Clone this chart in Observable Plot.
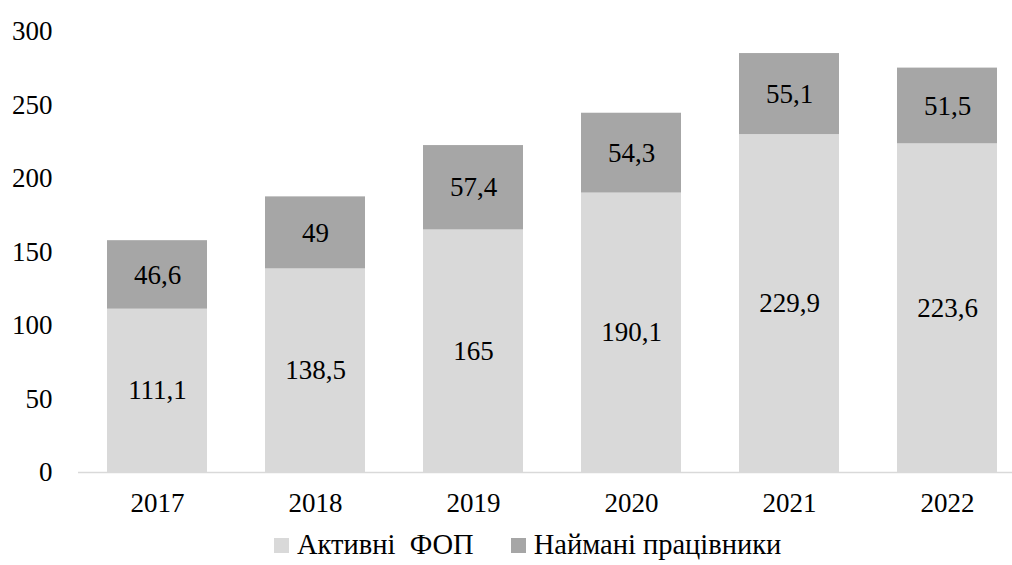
<!DOCTYPE html>
<html>
<head>
<meta charset="utf-8">
<script src="https://cdn.jsdelivr.net/npm/d3@7"></script>
<script src="https://cdn.jsdelivr.net/npm/@observablehq/plot@0.6"></script>
<style>
  html, body { margin: 0; padding: 0; background: #fff; }
  body { width: 1012px; height: 565px; overflow: hidden; font-family: "Times New Roman", "Liberation Serif", Times, serif; }
  #legend { display: flex; justify-content: flex-start; align-items: center; height: 40px; font-size: 28.5px; color: #000; padding-left: 274px; }
  .item { display: flex; align-items: center; }
  .sw { width: 15px; height: 15px; display: inline-block; margin-right: 8px; }
</style>
</head>
<body>
<div id="chart"></div>
<div id="legend"></div>
<script>
const years = ["2017", "2018", "2019", "2020", "2021", "2022"];
const series = ["Активні  ФОП", "Наймані працівники"];
const active = [111.1, 138.5, 165, 190.1, 229.9, 223.6];
const hired = [46.6, 49, 57.4, 54.3, 55.1, 51.5];
const colors = ["#D9D9D9", "#A6A6A6"];
const yTicks = [0, 50, 100, 150, 200, 250, 300];

const data = [];
years.forEach((y, i) => {
  data.push({year: y, series: series[0], value: active[i]});
  data.push({year: y, series: series[1], value: hired[i]});
});
const fmt = v => String(v).replace(".", ",");
const FONT = "'Times New Roman', 'Liberation Serif', Times, serif";

const chart = Plot.plot({
  width: 1012,
  height: 525,
  marginLeft: 78,
  marginRight: 0,
  marginTop: 31,
  marginBottom: 53,
  style: {fontFamily: FONT, fontSize: "27px", color: "#000", background: "#fff"},
  x: {domain: years, range: [78, 1026], paddingInner: 0.367, paddingOuter: 0.1835, label: null},
  y: {domain: [0, 300], ticks: yTicks, label: null},
  color: {domain: series, range: colors},
  marks: [
    Plot.axisY({ticks: yTicks, tickSize: 0, tickPadding: 26, label: null, tickFormat: d => String(d), fontSize: 27, fontFamily: FONT}),
    Plot.axisX({tickSize: 0, tickPadding: 20, label: null, fontSize: 27, fontFamily: FONT}),
    Plot.barY(data, {x: "year", y: "value", fill: "series", order: series}),
    Plot.ruleY([0], {stroke: "#D9D9D9", strokeWidth: 1.5}),
    Plot.text(data, Plot.stackY({x: "year", y: "value", z: "series", order: series, text: d => fmt(d.value), fill: "#000", fontSize: 27, fontFamily: FONT}))
  ]
});
document.getElementById("chart").appendChild(chart);

const legend = document.getElementById("legend");
series.forEach((s, i) => {
  const item = document.createElement("div");
  item.className = "item";
  if (i > 0) item.style.marginLeft = "37px";
  const sw = document.createElement("span");
  sw.className = "sw";
  sw.style.background = colors[i];
  const t = document.createElement("span");
  t.textContent = s;
  t.style.whiteSpace = "pre";
  item.appendChild(sw);
  item.appendChild(t);
  legend.appendChild(item);
});
</script>
</body>
</html>
